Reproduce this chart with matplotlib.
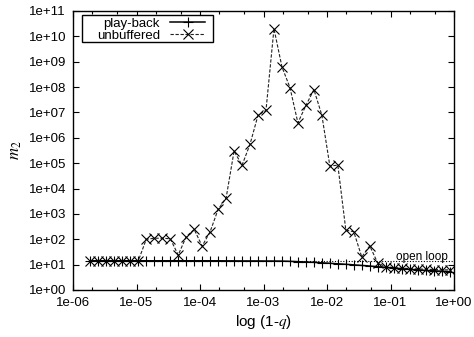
import matplotlib
matplotlib.use("Agg")
import matplotlib.pyplot as plt
from matplotlib.patches import Rectangle
from matplotlib.ticker import LogLocator, FixedLocator, NullFormatter

plt.rcParams['font.family'] = ['Liberation Sans', 'DejaVu Sans']
plt.rcParams['mathtext.fontset'] = 'stix'

# 1-q sample points
one_minus_q = [1.88e-6, 2.51e-6, 3.35e-6, 4.48e-6, 5.98e-6, 7.98e-6, 1.067e-5,
               1.425e-5, 1.905e-5, 2.54e-5, 3.40e-5, 4.54e-5, 6.05e-5, 8.09e-5,
               1.081e-4, 1.443e-4, 1.928e-4, 2.576e-4, 3.44e-4, 4.59e-4, 6.14e-4,
               8.20e-4, 1.094e-3, 1.462e-3, 1.954e-3, 2.61e-3, 3.48e-3, 4.66e-3,
               6.22e-3, 8.30e-3, 1.109e-2, 1.482e-2, 1.98e-2, 2.64e-2, 3.53e-2,
               4.71e-2, 6.30e-2, 8.41e-2, 0.1124, 0.150, 0.200, 0.268, 0.357,
               0.478, 0.638, 0.853]

playback = [14.2, 14.2, 14.2, 14.2, 14.2, 14.2, 14.2, 14.2, 14.2, 14.2,
            14.2, 14.2, 14.2, 14.2, 14.2, 14.2, 14.2, 14.1, 14.1, 14.0,
            14.0, 14.0, 13.9, 13.9, 13.8, 13.5, 13.1, 12.7, 12.3, 11.8,
            11.3, 10.8, 10.3, 9.8, 9.3, 8.8, 8.3, 7.8, 7.3, 6.9,
            6.5, 6.2, 5.9, 5.7, 5.5, 5.3]

unbuffered = [14.2, 14.2, 14.2, 14.2, 14.2, 14.2, 14.2,
              100, 110, 110, 105, 24, 125, 245, 54, 198, 1500, 4200,
              3.0e5, 8.3e4, 5.6e5, 7.8e6, 1.2e7, 2.0e10, 6.2e8, 9.6e7,
              3.9e6, 1.9e7, 8.0e7, 7.8e6, 7.8e4, 8.3e4, 230, 198,
              20, 55, 11.5, 8.3, 7.6, 7.3, 7.0, 6.8, 6.6, 6.4, 6.3, 6.2]

open_loop_level = 14.2

xticks = [1e-6, 1e-5, 1e-4, 1e-3, 1e-2, 1e-1, 1e0]
xticklabels = ['1e-06', '1e-05', '1e-04', '1e-03', '1e-02', '1e-01', '1e+00']
yticks = [10.0**k for k in range(0, 12)]
yticklabels = ['1e+%02d' % k for k in range(0, 12)]

fig = plt.figure(figsize=(4.74, 3.37), dpi=100)
ax = fig.add_axes([73/474, 1-290/337, (454-73)/474, (290-11)/337])

ax.hlines(open_loop_level, one_minus_q[0], 1.0, color='black', lw=0.8,
          linestyles=[(0, (1, 1.5))], zorder=1)
ax.plot(one_minus_q, unbuffered, color='#222222', lw=0.8, ls=(0, (3, 1.5)),
        marker='x', ms=6.5, mew=0.8, mec='black', label='unbuffered', zorder=2)
ax.plot(one_minus_q, playback, color='black', lw=1.1, ls='-',
        marker='+', ms=6.5, mew=0.8, label='play-back', zorder=3)

ax.text(0.8, 15.6, 'open loop', ha='right', va='baseline', fontsize=8.5)

ax.set_xscale('log')
ax.set_yscale('log')
ax.set_xlim(1e-6, 1e0)
ax.set_ylim(1e0, 1e11)
ax.set_xticks(xticks)
ax.set_xticklabels(xticklabels)
ax.xaxis.set_minor_locator(LogLocator(base=10, subs=(2.0, 5.0), numticks=20))
ax.xaxis.set_minor_formatter(NullFormatter())
ax.set_yticks(yticks)
ax.set_yticklabels(yticklabels)
ax.yaxis.set_minor_locator(FixedLocator([]))
ax.tick_params(which='major', direction='in', length=4, width=0.8,
               top=True, right=True, labelsize=9.5, pad=5)
ax.tick_params(which='minor', direction='in', length=2.5, width=0.8,
               top=True, right=True)
for s in ax.spines.values():
    s.set_linewidth(1.0)

ax.set_xlabel('log (1-$q$)', fontsize=11, labelpad=3)
ax.set_ylabel('$m_2$', fontsize=12, labelpad=3)

# legend box (gnuplot-style key frame)
ax.add_patch(Rectangle((0.0228, 0.890), 0.3454, 0.0957, transform=ax.transAxes,
                       facecolor='white', edgecolor='black', lw=1.0, zorder=4))

handles, labels = ax.get_legend_handles_labels()
order = [1, 0]
leg = ax.legend([handles[i] for i in order], [labels[i] for i in order],
                loc='upper right', bbox_to_anchor=(0.3465, 0.976), markerfirst=False,
                fontsize=9.5, frameon=False, borderpad=0, labelspacing=-0.04,
                handlelength=2.65, handletextpad=0.76, borderaxespad=0)
leg.set_zorder(5)

fig.savefig('out.png', dpi=100)
